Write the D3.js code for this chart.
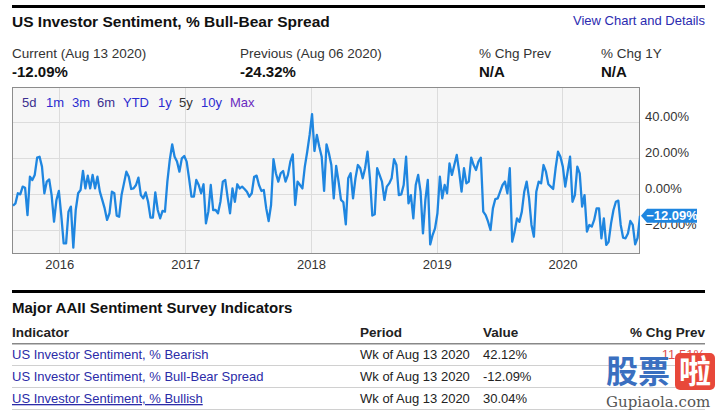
<!DOCTYPE html>
<html><head><meta charset="utf-8">
<script src="https://cdn.jsdelivr.net/npm/d3@7"></script>
<style>
html,body{margin:0;padding:0;background:#fff;}
svg{display:block;font-family:"Liberation Sans",Arial,sans-serif;}
</style></head>
<body><svg id="c" width="723" height="411"></svg>
<script>
// ---- data ----
const lastDate = "2020-08-13";
const spread = [
-6.5,-5.2,0.4,-0.2,4.1,3.5,-11.7,9.6,7.8,10.6,20.2,20.7,15.2,0.4,6.9,8.1,-0.6,-15.4,-3.3,1.7,
-11.7,-27.4,-27.4,-9.8,-7.0,-29.8,-8.9,0.4,2.2,12.8,3.1,10.2,3.1,10.6,3.1,9.6,1.3,-3.3,-8.0,-14.4,
-10.7,1.3,0.4,-12.0,-12.6,-0.6,5.9,12.4,9.6,2.8,3.1,5.0,9.1,-0.6,-2.4,0.9,-4.3,-13.1,-13.1,0.9,
-8.9,-13.5,-9.4,-9.8,6.9,18.9,27.6,20.7,18.0,12.4,19.8,21.1,18.0,8.7,-1.5,-1.5,7.8,5.0,0.4,5.4,
-16.3,-9.8,5.0,-8.9,-8.9,-10.7,-4.3,6.9,7.8,-2.0,-10.7,3.1,-4.3,5.4,3.1,4.1,2.8,1.3,-1.5,0.4,
9.6,10.2,5.0,1.7,2.2,-8.0,-15.0,-6.1,19.4,11.5,6.9,11.5,12.8,6.9,10.6,18.0,22.0,-6.1,6.9,5.0,
3.1,15.2,23.5,32.8,44.4,23.9,32.8,26.3,20.7,1.7,27.6,22.6,16.1,-2.4,15.6,6.9,-3.3,-4.6,-16.9,8.7,
11.5,-2.4,8.7,16.1,
14.3,8.7,14.3,23.5,8.7,-12.0,-11.3,14.3,10.6,6.9,-3.3,4.1,5.9,8.7,19.4,16.1,-0.6,-0.2,5.0,20.7,
-5.2,-0.6,-13.5,5.0,10.6,1.3,-21.9,-3.3,7.8,-28.0,-22.8,-19.1,-10.7,9.6,-2.4,5.0,0.4,17.0,10.6,16.1,
21.7,12.4,1.3,14.3,5.9,6.9,20.2,16.1,13.3,18.0,20.2,-9.8,-11.7,-15.4,-20.0,-8.0,-2.8,-2.4,1.3,5.0,
6.9,0.4,14.3,-26.5,-20.9,-13.5,-15.4,-9.8,1.3,6.9,-2.4,-17.2,-23.7,1.3,6.9,5.9,16.1,12.4,5.4,4.1,
2.8,14.3,23.5,20.7,15.2,4.1,12.4,20.7,-4.3,-0.6,15.2,11.5,-7.0,-0.6,-20.9,-17.2,-18.1,-14.4,-8.0,-8.0,
-24.6,-13.5,-28.3,-26.5,-16.3,-8.9,-4.3,-3.7,-17.2,-24.3,-24.6,-21.9,-15.0,-17.2,-28.0,-24.32,-12.09
];
const yTicks = [40, 20, 0, -20];
const xTickYears = [2016, 2017, 2018, 2019, 2020];
const rangeButtons = ["5d","1m","3m","6m","YTD","1y","5y","10y","Max"];
const tableIndicators = ["US Investor Sentiment, % Bearish","US Investor Sentiment, % Bull-Bear Spread","US Investor Sentiment, % Bullish"];
const tablePeriods = ["Wk of Aug 13 2020","Wk of Aug 13 2020","Wk of Aug 13 2020"];
const tableValues = ["42.12%","-12.09%","30.04%"];
const tableChg = ["11.51%","",""];

// ---- build ----
const svg = d3.select("#c");
const parse = d3.utcParse("%Y-%m-%d");
const last = parse(lastDate);
const n = spread.length;
const data = spread.map((v,i)=>({d:d3.utcDay.offset(last, -7*(n-1-i)), v}));

const L=12, R=640, T=87, B=254;
const x = d3.scaleUtc().domain([parse("2015-08-17"), last]).range([L,R]);
const y = d3.scaleLinear().domain([-33.33, 59.44]).range([B,T]);

// header
svg.append("rect").attr("x",12).attr("y",5).attr("width",693).attr("height",3).attr("fill","#000");
svg.append("text").attr("x",12).attr("y",27).attr("font-size",15.5).attr("font-weight","bold").attr("fill","#111").text("US Investor Sentiment, % Bull-Bear Spread");
svg.append("text").attr("x",705).attr("y",25).attr("text-anchor","end").attr("font-size",13).attr("fill","#2b2bb0").text("View Chart and Details");

const stats = [
  {x:12, l:"Current (Aug 13 2020)", v:"-12.09%"},
  {x:240, l:"Previous (Aug 06 2020)", v:"-24.32%"},
  {x:479, l:"% Chg Prev", v:"N/A"},
  {x:601, l:"% Chg 1Y", v:"N/A"}
];
stats.forEach(s=>{
  svg.append("text").attr("x",s.x).attr("y",58).attr("font-size",13.5).attr("fill","#333").text(s.l);
  svg.append("text").attr("x",s.x).attr("y",77).attr("font-size",15).attr("font-weight","bold").attr("fill","#111").text(s.v);
});

// plot background
svg.append("rect").attr("x",L).attr("y",T).attr("width",R-L).attr("height",B-T).attr("fill","#f6f6f6");
// grid
svg.append("g").selectAll("line").data(yTicks).join("line")
  .attr("x1",L).attr("x2",R).attr("y1",d=>y(d)+0.5).attr("y2",d=>y(d)+0.5)
  .attr("stroke","#dcdcdc").attr("stroke-width",1);
svg.append("g").selectAll("line").data(xTickYears).join("line")
  .attr("x1",d=>Math.round(x(new Date(Date.UTC(d,0,1))))+0.5).attr("x2",d=>Math.round(x(new Date(Date.UTC(d,0,1))))+0.5)
  .attr("y1",T).attr("y2",B).attr("stroke","#dcdcdc").attr("stroke-width",1);
svg.append("rect").attr("x",L+0.5).attr("y",T+0.5).attr("width",R-L-1).attr("height",B-T-1)
  .attr("fill","none").attr("stroke","#8c8c8c").attr("stroke-width",1);

// x axis labels
const xAxis = d3.axisBottom(x).tickValues(xTickYears.map(d=>new Date(Date.UTC(d,0,1)))).tickFormat(d3.utcFormat("%Y")).tickSize(0).tickPadding(6);
const gx = svg.append("g").attr("transform",`translate(0,${B})`).call(xAxis);
gx.select(".domain").remove();
gx.selectAll("text").attr("font-size",13).attr("fill","#333").attr("font-family","Liberation Sans, Arial, sans-serif");

// y labels
const yAxis = d3.axisRight(y).tickValues(yTicks).tickFormat(d=>d3.format(".2f")(d)+"%").tickSize(0).tickPadding(5);
const gy = svg.append("g").attr("transform",`translate(${R},-6)`).call(yAxis);
gy.select(".domain").remove();
gy.selectAll("text").attr("font-size",13).attr("fill","#333").attr("font-family","Liberation Sans, Arial, sans-serif");

// range buttons
const btnX = [22,46,72,97,123,158,179,201,230];
const btnCol = ["#3b2f8f","#2b2bd0","#2b2bd0","#3b2f8f","#2b2bd0","#2b2bd0","#333","#2b2bd0","#6a2bc0"];
svg.append("g").selectAll("text").data(rangeButtons).join("text")
  .attr("x",(d,i)=>btnX[i]).attr("y",107).attr("font-size",13).attr("fill",(d,i)=>btnCol[i]).text(d=>d);

// line
svg.append("clipPath").attr("id","clip").append("rect").attr("x",L).attr("y",T).attr("width",R-L).attr("height",B-T);
svg.append("path").datum(data).attr("clip-path","url(#clip)")
  .attr("d",d3.line().x(d=>x(d.d)).y(d=>y(d.v)))
  .attr("fill","none").attr("stroke","#1f86e0").attr("stroke-width",2.3).attr("stroke-linejoin","round");

// last value marker
const lv = data[n-1];
const my = y(lv.v);
const mx = x(lv.d);
svg.append("path").attr("d",`M${mx+1},${my} L${mx+7},${my-7} L${mx+57},${my-7} L${mx+57},${my+7} L${mx+7},${my+7} Z`).attr("fill","#1f86e0");
svg.append("text").attr("x",mx+32).attr("y",my+4.5).attr("text-anchor","middle").attr("font-size",13).attr("font-weight","bold").attr("fill","#fff").text(d3.format(".2f")(lv.v)+"%");

// bottom table
svg.append("rect").attr("x",12).attr("y",290).attr("width",693).attr("height",3).attr("fill","#000");
svg.append("text").attr("x",12).attr("y",313).attr("font-size",15).attr("font-weight","bold").attr("fill","#111").text("Major AAII Sentiment Survey Indicators");
const hy = 337;
svg.append("text").attr("x",12).attr("y",hy).attr("font-size",13.5).attr("font-weight","bold").attr("fill","#222").text("Indicator");
svg.append("text").attr("x",360).attr("y",hy).attr("font-size",13.5).attr("font-weight","bold").attr("fill","#222").text("Period");
svg.append("text").attr("x",483).attr("y",hy).attr("font-size",13.5).attr("font-weight","bold").attr("fill","#222").text("Value");
svg.append("text").attr("x",705).attr("y",hy).attr("text-anchor","end").attr("font-size",13.5).attr("font-weight","bold").attr("fill","#222").text("% Chg Prev");
svg.append("rect").attr("x",12).attr("y",343).attr("width",693).attr("height",1.5).attr("fill","#888");
const rowY = [359,381,403];
tableIndicators.forEach((t,i)=>{
  const tt = svg.append("text").attr("x",12).attr("y",rowY[i]).attr("font-size",13).attr("fill","#2b2ba8").text(t);
  if(i===2) tt.attr("text-decoration","underline");
  svg.append("text").attr("x",360).attr("y",rowY[i]).attr("font-size",13).attr("fill","#222").text(tablePeriods[i]);
  svg.append("text").attr("x",483).attr("y",rowY[i]).attr("font-size",13).attr("fill","#222").text(tableValues[i]);
  if(tableChg[i]) svg.append("text").attr("x",705).attr("y",rowY[i]).attr("text-anchor","end").attr("font-size",13).attr("fill","#e05050").text(tableChg[i]);
  svg.append("rect").attr("x",12).attr("y",rowY[i]+6).attr("width",693).attr("height",1).attr("fill","#d0d0d0");
});

// watermark
svg.append("text").attr("x",606).attr("y",383).attr("font-size",32).attr("font-weight","bold").attr("fill","#3a6fc0").attr("font-family","Noto Sans CJK SC").text("股票");
svg.append("rect").attr("x",675).attr("y",353).attr("width",40).attr("height",37).attr("rx",5).attr("fill","#e8483a");
svg.append("text").attr("x",695).attr("y",383).attr("text-anchor","middle").attr("font-size",32).attr("font-weight","bold").attr("fill","#fff").attr("font-family","Noto Sans CJK SC").text("啦");
svg.append("text").attr("x",606).attr("y",407).attr("font-size",15).attr("fill","#555").attr("font-family","DejaVu Serif").text("Gupiaola.com");
</script></body></html>
